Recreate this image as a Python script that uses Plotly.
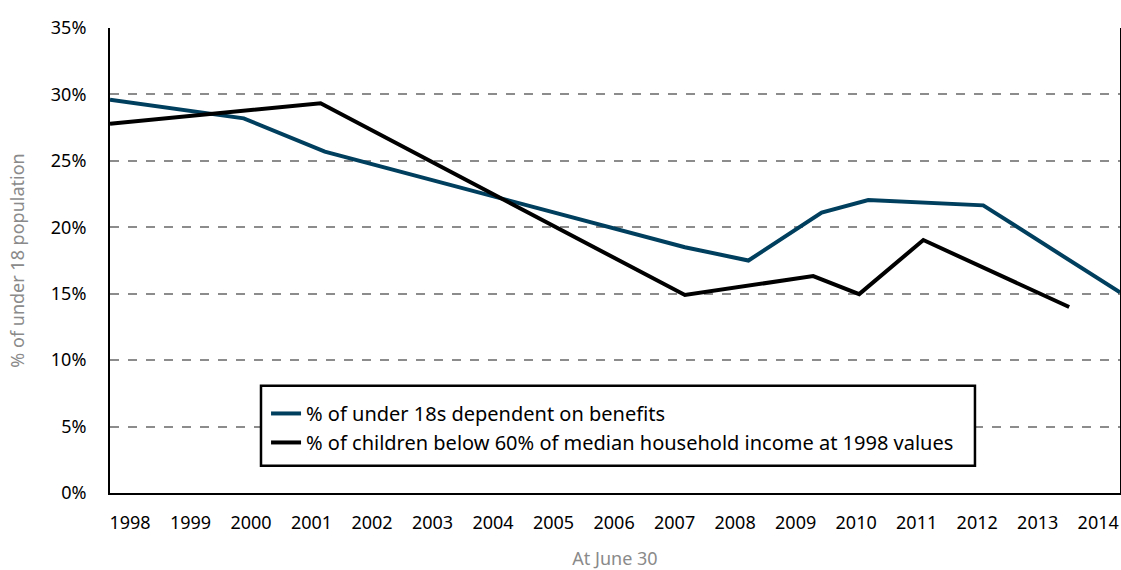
"""Children dependent on benefits vs. children below 60% median income."""

import plotly.graph_objects as go

# Year positions (points are not on whole years)
benefit_years = [1997.67, 1999.88, 2001.22, 2007.17, 2008.22, 2009.43, 2010.2, 2012.1, 2014.36]
benefit_pct = [29.6, 28.2, 25.7, 18.5, 17.5, 21.1, 22.05, 21.65, 15.1]

poverty_years = [1997.67, 2001.15, 2007.17, 2009.29, 2010.05, 2011.11, 2013.52]
poverty_pct = [27.8, 29.33, 14.9, 16.33, 14.97, 19.04, 14.0]

year_ticks = list(range(1998, 2015))
pct_ticks = [0, 5, 10, 15, 20, 25, 30, 35]

FONT = "Noto Sans"

fig = go.Figure()

fig.add_trace(go.Scatter(
    x=benefit_years,
    y=benefit_pct,
    mode="lines",
    name="% of under 18s dependent on benefits",
    line={"color": "#003f5e", "width": 4},
))

fig.add_trace(go.Scatter(
    x=poverty_years,
    y=poverty_pct,
    mode="lines",
    name="% of children below 60% of median household income at 1998 values",
    line={"color": "#000000", "width": 4},
))

# legend frame drawn as a shape so its size matches the original box
fig.add_shape(
    type="rect", xref="paper", yref="paper",
    x0=0.1495, x1=0.8564, y0=0.0587, y1=0.2308,
    line={"color": "#000000", "width": 2.5},
    fillcolor="white", layer="above",
)

fig.update_layout(
    width=1121,
    height=570,
    template="plotly_white",
    plot_bgcolor="white",
    paper_bgcolor="white",
    font={"family": FONT, "size": 18, "color": "#000000"},
    margin={"t": 28, "b": 77, "l": 110, "r": 1},
    showlegend=True,
    legend={
        "x": 0.1545, "y": 0.213,
        "xanchor": "left", "yanchor": "top",
        "bgcolor": "rgba(0,0,0,0)",
        "borderwidth": 0,
        "font": {"family": FONT, "size": 20, "color": "#000000"},
        "tracegroupgap": 0,
        "itemwidth": 30,
    },
    xaxis={
        "range": [1997.67, 2014.36],
        "tickvals": year_ticks,
        "ticktext": [str(y) for y in year_ticks],
        "automargin": False,
        "showgrid": False,
        "zeroline": False,
        "showline": True,
        "linecolor": "#000000",
        "linewidth": 2,
        "ticks": "",
        "ticklabelstandoff": 12,
        "title": {"text": "At June 30", "font": {"color": "#8a8a8a", "size": 18}, "standoff": 23},
    },
    yaxis={
        "range": [0, 35],
        "tickvals": pct_ticks,
        "ticktext": [f"{v}%" for v in pct_ticks],
        "automargin": False,
        "showgrid": True,
        "gridcolor": "#8c8c8c",
        "griddash": "dash",
        "gridwidth": 1.5,
        "zeroline": False,
        "showline": True,
        "mirror": True,
        "linecolor": "#000000",
        "linewidth": 2,
        "ticks": "",
        "ticklabelstandoff": 18,
        "title": {"text": "% of under 18 population", "font": {"color": "#8a8a8a", "size": 18}, "standoff": 22},
    },
)

# the page's default body margin would push the figure off the window
fig.write_html(
    "out.html",
    config={"displayModeBar": False},
    post_script="document.body.style.margin = '0';",
)
